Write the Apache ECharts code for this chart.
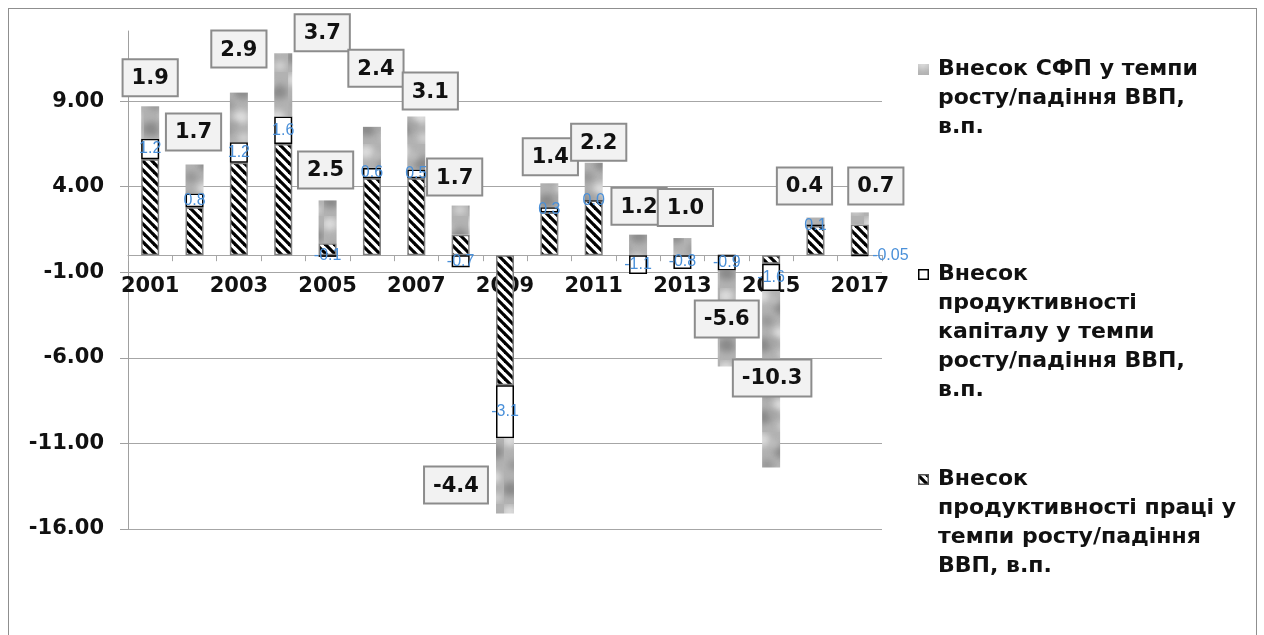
<!DOCTYPE html>
<html>
<head>
<meta charset="utf-8">
<script src="https://cdn.jsdelivr.net/npm/echarts@6.0.0/dist/echarts.min.js"></script>
<style>
html, body { margin: 0; padding: 0; background: #fff; overflow: hidden; }
#frame { position: absolute; left: 8px; top: 8px; width: 1249px; height: 680px; border: 1px solid #8f8f8f; box-sizing: border-box; }
#chart { position: absolute; left: 0; top: 0; width: 1264px; height: 635px; }
</style>
</head>
<body>
<div id="frame"></div>
<div id="chart"></div>
<script>
// дані
var years = ['2001', '2002', '2003', '2004', '2005', '2006', '2007', '2008', '2009',
  '2010', '2011', '2012', '2013', '2014', '2015', '2016', '2017']
var labour = [5.6, 2.8, 5.4, 6.5, 0.7, 4.5, 4.5, 1.2, -7.6, 2.5, 3.2, 0, 0, 0, -0.5, 1.7, 1.8]
var capital = [1.2, 0.8, 1.2, 1.6, -0.1, 0.6, 0.5, -0.7, -3.1, 0.3, 0.0, -1.1, -0.8, -0.9, -1.6, 0.1, -0.05]
var tfp = [1.9, 1.7, 2.9, 3.7, 2.5, 2.4, 3.1, 1.7, -4.4, 1.4, 2.2, 1.2, 1.0, -5.6, -10.3, 0.4, 0.7]

var nameTfp = 'Внесок СФП у темпи\nросту/падіння ВВП,\nв.п.'
var nameCap = 'Внесок\nпродуктивності\nкапіталу у темпи\nросту/падіння ВВП,\nв.п.'
var nameLab = 'Внесок\nпродуктивності праці у\nтемпи росту/падіння\nВВП, в.п.'

// зсуви підписів СФП (вручну, як у вихідному файлі)
var tfpLabelShift = [[0, -3], [-1, -7], [0, -18], [39, 5], [-2, -5], [4, -33], [14, 0], [-6, -3],
  [-49, -3], [1, -1], [5, 5], [1, -3], [3, -5], [0, -22], [1, -64], [-11, -6], [16, -1]]

var FONT = '"DejaVu Sans", Verdana, sans-serif'
var FONT_SMALL = '"Liberation Sans", Arial, sans-serif'
var LH = 29
var GRID_TOP = 31

function hatchCanvas() {
  var c = document.createElement('canvas')
  c.width = 9; c.height = 9
  var g = c.getContext('2d')
  g.fillStyle = '#fff'
  g.fillRect(0, 0, 9, 9)
  g.strokeStyle = '#000'
  g.lineWidth = 3.2
  ;[-9, 0, 9].forEach(function (k) {
    g.beginPath(); g.moveTo(k - 1, -1); g.lineTo(k + 10, 10); g.stroke()
  })
  return c
}

function stoneCanvas() {
  var c = document.createElement('canvas')
  c.width = 36; c.height = 72
  var g = c.getContext('2d')
  g.fillStyle = '#b2b2b2'
  g.fillRect(0, 0, 36, 72)
  g.filter = 'blur(3px)'
  var blobs = [[6, 8, 8, '#dcdcdc'], [27, 20, 9, '#8c8c8c'], [11, 33, 7, '#979797'], [25, 45, 8, '#dedede'],
    [7, 57, 9, '#8a8a8a'], [28, 66, 6, '#d4d4d4'], [18, 12, 4, '#c4c4c4'], [18, 54, 5, '#a2a2a2']]
  blobs.forEach(function (b) {
    g.fillStyle = b[3]
    g.beginPath(); g.ellipse(b[0], b[1], b[2], b[2] * 0.8, 0, 0, Math.PI * 2); g.fill()
  })
  return c
}

var hatch = hatchCanvas()
var stone = stoneCanvas()

function legendIcon(kind, h) {
  var c = document.createElement('canvas')
  c.width = 16; c.height = h
  var g = c.getContext('2d')
  var y = Math.round((LH - 11) / 2)
  if (kind === 'tfp') {
    g.fillStyle = g.createPattern(stone, 'repeat')
    g.fillRect(1, y, 11, 11)
  } else if (kind === 'cap') {
    g.fillStyle = '#fff'
    g.fillRect(1, y, 11, 11)
    g.strokeStyle = '#000'; g.lineWidth = 1.5
    g.strokeRect(1.75, y + 0.75, 9.5, 9.5)
  } else {
    g.fillStyle = g.createPattern(hatch, 'repeat')
    g.fillRect(1, y, 11, 11)
    g.strokeStyle = '#555'; g.lineWidth = 1.5
    g.strokeRect(1.75, y + 0.75, 9.5, 9.5)
  }
  return 'image://' + c.toDataURL()
}

function legendAt(name, top, kind) {
  var h = name.split('\n').length * LH
  return {
    data: [name],
    orient: 'vertical',
    left: 917,
    top: top,
    padding: 0,
    selectedMode: false,
    icon: legendIcon(kind, h),
    itemWidth: 16,
    itemHeight: h,
    textStyle: { fontFamily: FONT, fontWeight: 'bold', fontSize: 22, lineHeight: LH, color: '#111' }
  }
}

function fmtCap(p) {
  var v = p.value
  return Math.abs(v * 10 - Math.round(v * 10)) < 1e-9 ? v.toFixed(1) : String(v)
}

var chart = echarts.init(document.getElementById('chart'), null, { renderer: 'canvas' })

var option = {
  animation: false,
  grid: { left: 128, right: 382, top: GRID_TOP, bottom: 106, containLabel: false, outerBoundsMode: 'none' },
  legend: [
    legendAt(nameTfp, 55, 'tfp'),
    legendAt(nameCap, 260, 'cap'),
    legendAt(nameLab, 465, 'lab')
  ],
  xAxis: [
    {
      type: 'category',
      data: years,
      position: 'bottom',
      z: 1,
      axisLine: { onZero: true, lineStyle: { color: '#a6a6a6', width: 1 } },
      axisTick: { show: true, interval: 0, length: 6, lineStyle: { color: '#a6a6a6' } },
      axisLabel: { show: false },
      splitLine: { show: false }
    },
    {
      // лише підписи років під нульовою лінією
      type: 'category',
      data: years,
      position: 'top',
      offset: 0,
      z: 0,
      axisLine: { show: false, onZero: false },
      axisTick: { show: false },
      axisLabel: { inside: true, interval: 1, margin: 21, fontFamily: FONT, fontWeight: 'bold', fontSize: 21, color: '#111' },
      splitLine: { show: false }
    }
  ],
  yAxis: {
    type: 'value',
    min: -16,
    max: 13.1,
    interval: 5,
    z: 0,
    axisLine: { show: true, lineStyle: { color: '#a0a0a0' } },
    axisTick: { show: true, length: 8, lineStyle: { color: '#a0a0a0' } },
    axisLabel: {
      showMaxLabel: false,
      margin: 24,
      formatter: function (v) { return v.toFixed(2) },
      fontFamily: FONT, fontWeight: 'bold', fontSize: 21, color: '#111'
    },
    splitLine: { show: true, showMaxLine: false, lineStyle: { color: '#a6a6a6', width: 1 } }
  },
  series: [
    {
      name: nameLab,
      type: 'bar',
      stack: 'g',
      z: 10,
      barWidth: 18,
      data: labour,
      itemStyle: { color: { image: hatch, repeat: 'repeat' }, borderColor: '#7f7f7f', borderWidth: 1.5 },
      emphasis: { disabled: true }
    },
    {
      name: nameCap,
      type: 'bar',
      stack: 'g',
      z: 10,
      barWidth: 18,
      data: capital.map(function (v) {
        return (v !== 0 && Math.abs(v) < 0.1) ? { value: v, label: { position: 'right', distance: 3 } } : v
      }),
      itemStyle: { color: '#fff', borderColor: '#000', borderWidth: 1.5 },
      label: { show: true, position: 'inside', color: '#4a90d9', fontFamily: FONT_SMALL, fontSize: 16, formatter: fmtCap },
      emphasis: { disabled: true }
    },
    {
      name: nameTfp,
      type: 'bar',
      stack: 'g',
      z: 10,
      barWidth: 18,
      data: tfp.map(function (v, i) {
        return { value: v, label: { position: v >= 0 ? 'top' : 'insideBottom', offset: tfpLabelShift[i] } }
      }),
      itemStyle: { color: { image: stone, repeat: 'repeat' } },
      label: {
        show: true,
        distance: 8,
        formatter: function (p) { return p.value.toFixed(1) },
        fontFamily: FONT, fontWeight: 'bold', fontSize: 21, color: '#111',
        backgroundColor: '#f2f2f2', borderColor: '#8c8c8c', borderWidth: 2, padding: [8, 8, 6, 8]
      },
      emphasis: { disabled: true }
    }
  ]
}

chart.setOption(option)
// підписи років ставимо на рівень нуля осі значень
var zeroY = chart.convertToPixel({ yAxisIndex: 0 }, 0)
chart.setOption({ xAxis: [{}, { offset: -(zeroY - GRID_TOP) }] })
</script>
</body>
</html>
